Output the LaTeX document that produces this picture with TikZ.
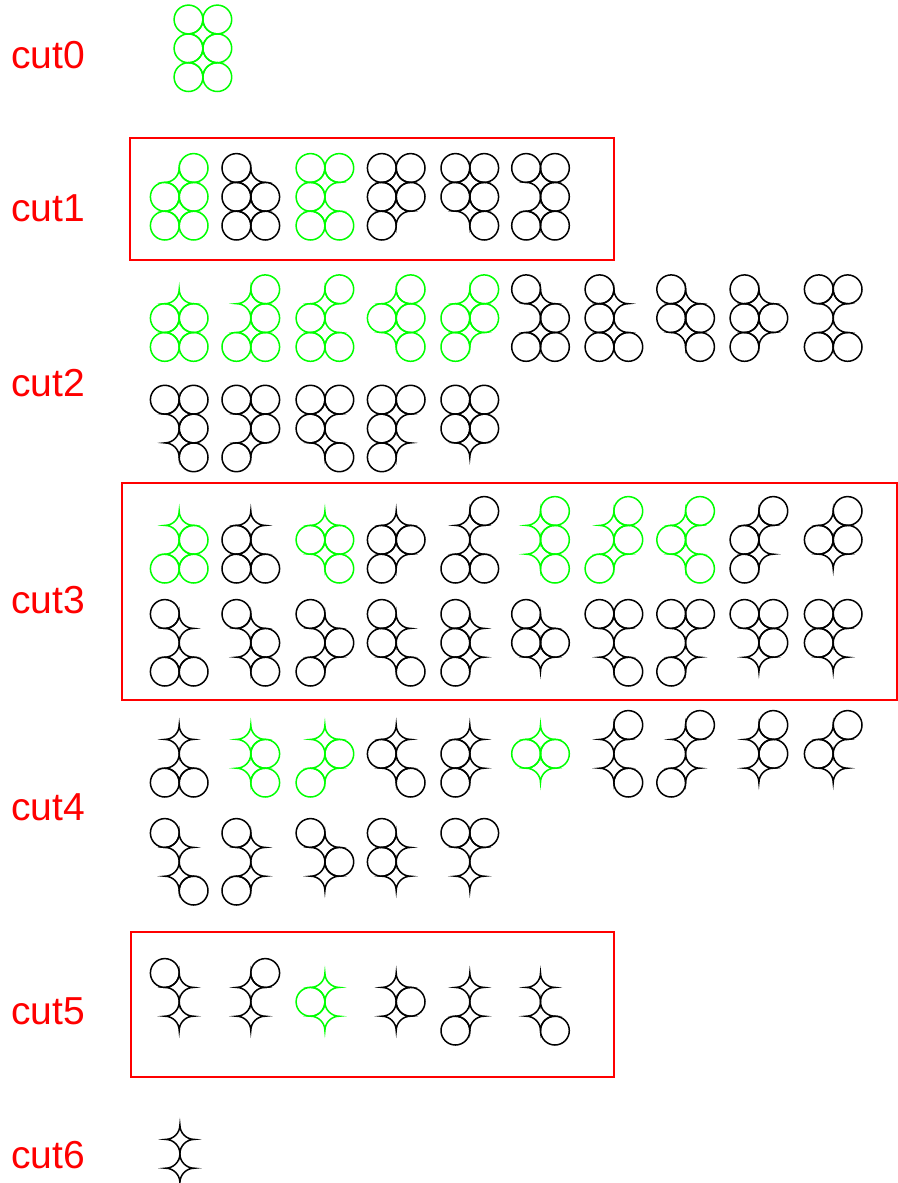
\documentclass[tikz,border=0pt]{standalone}
\usepackage{fontspec}
\setmainfont{Liberation Sans}
\definecolor{gr}{RGB}{0,255,0}
\definecolor{rd}{RGB}{255,0,0}
\def\S{28.8}
\def\R{14.4}
\tikzset{
  shapeline/.style={line width=1.5pt},
  cutlabel/.style={text=rd, anchor=west, inner sep=0pt, font=\fontsize{39}{41}\selectfont},
  cutbox/.style={draw=rd, line width=1.2pt},
}
\newcommand\holes{%
  \draw (0,-\R) arc[start angle=270,end angle=360,radius=\R]
        arc[start angle=180,end angle=270,radius=\R]
        arc[start angle=90,end angle=180,radius=\R]
        arc[start angle=0,end angle=90,radius=\R] -- cycle;
  \draw (0,-\R-\S) arc[start angle=270,end angle=360,radius=\R]
        arc[start angle=180,end angle=270,radius=\R]
        arc[start angle=90,end angle=180,radius=\R]
        arc[start angle=0,end angle=90,radius=\R] -- cycle;
}
\newcommand\shp[4]{%
  \begin{scope}[shift={(#2,-#3)}, draw=#1, shapeline]
    \foreach \cx/\cy in {#4} \draw (\cx*\S, -\cy*\S) circle[radius=\R];
    \holes
  \end{scope}}
\begin{document}
\begin{tikzpicture}[x=1pt,y=1pt]
\useasboundingbox (0,0) rectangle (897,-1183);
% labels
\node[cutlabel] (l0) at (11,-55) {cut0};
\node[cutlabel] (l1) at (11,-208) {cut1};
\node[cutlabel] (l2) at (11,-383) {cut2};
\node[cutlabel] (l3) at (11,-600) {cut3};
\node[cutlabel] (l4) at (11,-807) {cut4};
\node[cutlabel] (l5) at (11,-1011) {cut5};
\node[cutlabel] (l6) at (11,-1155) {cut6};
% boxes
\draw[cutbox] (130,-138) rectangle (614,-260);
\draw[cutbox] (122,-483) rectangle (897,-700);
\draw[cutbox] (131,-932) rectangle (614,-1077);
% cut0
\shp{gr}{188.5}{19.5}{0/0,1/0,0/1,1/1,0/2,1/2}
% cut1
\def\Y{168}
\shp{gr}{164.8}{\Y}{1/0,0/1,1/1,0/2,1/2}
\shp{black}{236.4}{\Y}{0/0,0/1,1/1,0/2,1/2}
\shp{gr}{310.5}{\Y}{0/0,1/0,0/1,0/2,1/2}
\shp{black}{381.8}{\Y}{0/0,1/0,0/1,1/1,0/2}
\shp{black}{455.4}{\Y}{0/0,1/0,0/1,1/1,1/2}
\shp{black}{526.1}{\Y}{0/0,1/0,1/1,0/2,1/2}
% cut2
\def\Y{289.3}
\shp{gr}{164.8}{\Y}{0/1,1/1,0/2,1/2}
\shp{gr}{236.4}{\Y}{1/0,1/1,0/2,1/2}
\shp{gr}{310.5}{\Y}{1/0,0/1,0/2,1/2}
\shp{gr}{381.8}{\Y}{1/0,0/1,1/1,1/2}
\shp{gr}{455.4}{\Y}{1/0,0/1,1/1,0/2}
\shp{black}{526.1}{\Y}{0/0,1/1,0/2,1/2}
\shp{black}{599.5}{\Y}{0/0,0/1,0/2,1/2}
\shp{black}{671.2}{\Y}{0/0,0/1,1/1,1/2}
\shp{black}{744.5}{\Y}{0/0,0/1,1/1,0/2}
\shp{black}{818.8}{\Y}{0/0,1/0,0/2,1/2}
\def\Y{399.7}
\shp{black}{164.8}{\Y}{0/0,1/0,1/1,1/2}
\shp{black}{236.4}{\Y}{0/0,1/0,1/1,0/2}
\shp{black}{310.5}{\Y}{0/0,1/0,0/1,1/2}
\shp{black}{381.8}{\Y}{0/0,1/0,0/1,0/2}
\shp{black}{455.4}{\Y}{0/0,1/0,0/1,1/1}
% cut3
\def\Y{511}
\shp{gr}{164.8}{\Y}{1/1,0/2,1/2}
\shp{black}{236.4}{\Y}{0/1,0/2,1/2}
\shp{gr}{310.5}{\Y}{0/1,1/1,1/2}
\shp{black}{381.8}{\Y}{0/1,1/1,0/2}
\shp{black}{455.4}{\Y}{1/0,0/2,1/2}
\shp{gr}{526.1}{\Y}{1/0,1/1,1/2}
\shp{gr}{599.5}{\Y}{1/0,1/1,0/2}
\shp{gr}{671.2}{\Y}{1/0,0/1,1/2}
\shp{black}{744.5}{\Y}{1/0,0/1,0/2}
\shp{black}{818.8}{\Y}{1/0,0/1,1/1}
\def\Y{614}
\shp{black}{164.8}{\Y}{0/0,0/2,1/2}
\shp{black}{236.4}{\Y}{0/0,1/1,1/2}
\shp{black}{310.5}{\Y}{0/0,1/1,0/2}
\shp{black}{381.8}{\Y}{0/0,0/1,1/2}
\shp{black}{455.4}{\Y}{0/0,0/1,0/2}
\shp{black}{526.1}{\Y}{0/0,0/1,1/1}
\shp{black}{599.5}{\Y}{0/0,1/0,1/2}
\shp{black}{671.2}{\Y}{0/0,1/0,0/2}
\shp{black}{744.5}{\Y}{0/0,1/0,1/1}
\shp{black}{818.8}{\Y}{0/0,1/0,0/1}
% cut4
\def\Y{725}
\shp{black}{164.8}{\Y}{0/2,1/2}
\shp{gr}{236.4}{\Y}{1/1,1/2}
\shp{gr}{310.5}{\Y}{1/1,0/2}
\shp{black}{381.8}{\Y}{0/1,1/2}
\shp{black}{455.4}{\Y}{0/1,0/2}
\shp{gr}{526.1}{\Y}{0/1,1/1}
\shp{black}{599.5}{\Y}{1/0,1/2}
\shp{black}{671.2}{\Y}{1/0,0/2}
\shp{black}{744.5}{\Y}{1/0,1/1}
\shp{black}{818.8}{\Y}{1/0,0/1}
\def\Y{833}
\shp{black}{164.8}{\Y}{0/0,1/2}
\shp{black}{236.4}{\Y}{0/0,0/2}
\shp{black}{310.5}{\Y}{0/0,1/1}
\shp{black}{381.8}{\Y}{0/0,0/1}
\shp{black}{455.4}{\Y}{0/0,1/0}
% cut5
\def\Y{973}
\shp{black}{164.8}{\Y}{0/0}
\shp{black}{236.4}{\Y}{1/0}
\shp{gr}{310.5}{\Y}{0/1}
\shp{black}{381.8}{\Y}{1/1}
\shp{black}{455.4}{\Y}{0/2}
\shp{black}{526.1}{\Y}{1/2}
% cut6
\begin{scope}[shift={(165.5,-1125)}, shapeline]
  \holes
\end{scope}
\end{tikzpicture}
\end{document}
